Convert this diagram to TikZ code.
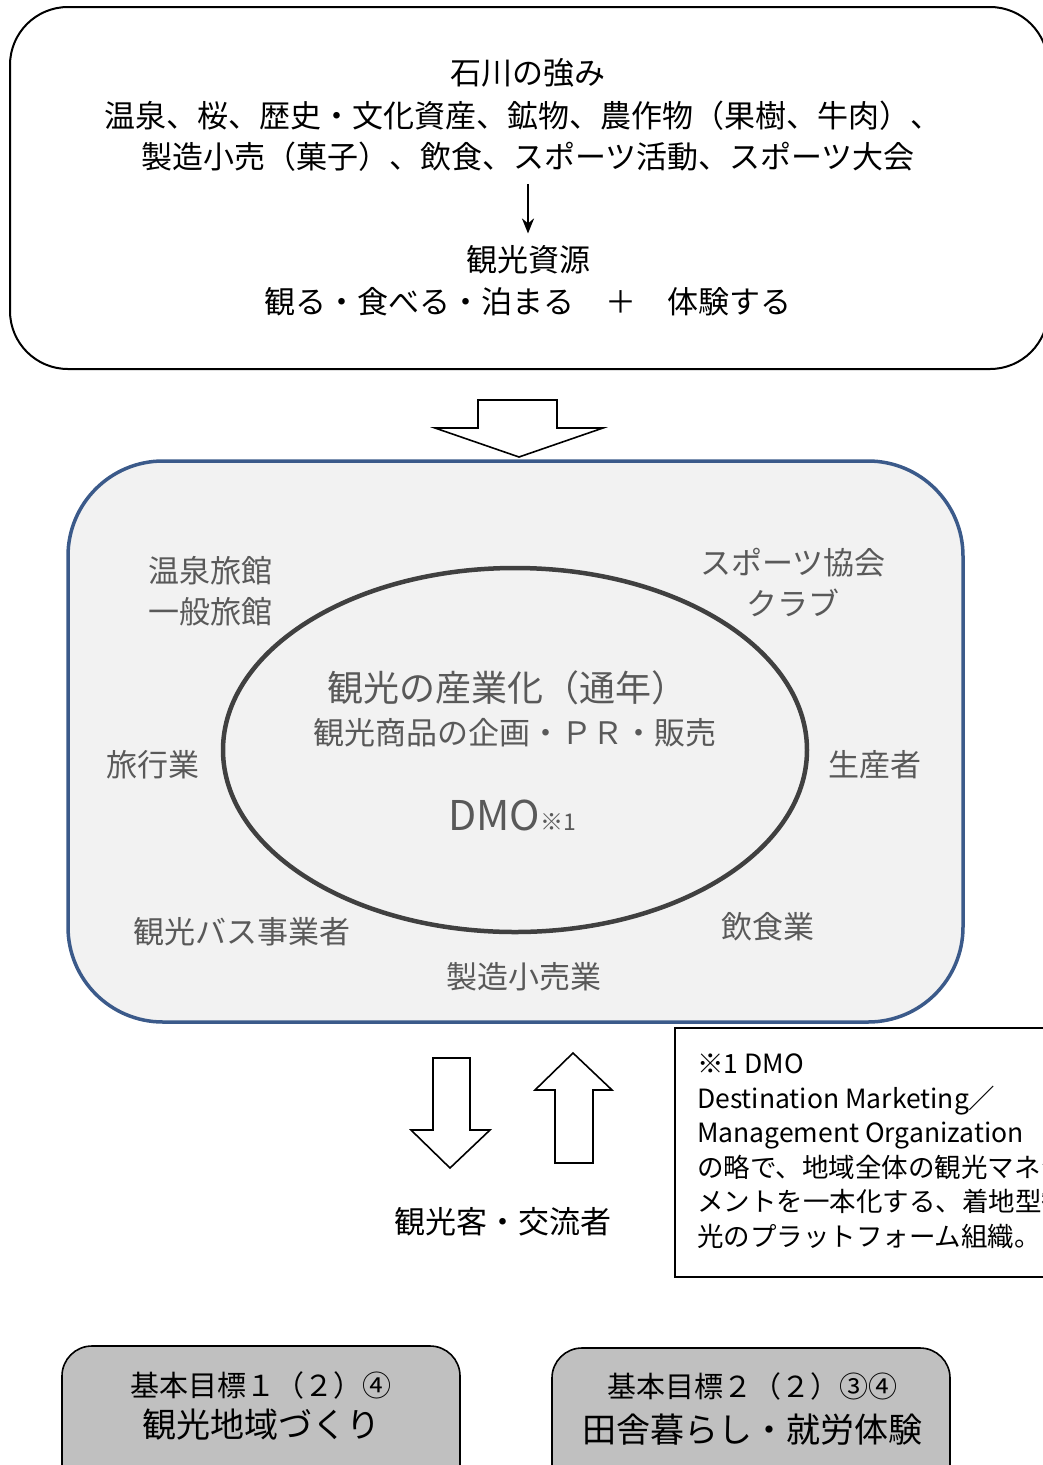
\documentclass[tikz,border=0pt]{standalone}
\usepackage{fontspec}
\setmainfont{Noto Sans CJK JP}
\usetikzlibrary{arrows.meta}

\definecolor{dmoblue}{HTML}{3B5A8A}
\definecolor{panelgray}{HTML}{F2F2F2}
\definecolor{textgray}{HTML}{595959}
\definecolor{ringgray}{HTML}{404040}
\definecolor{goalgray}{HTML}{C0C0C0}

\tikzset{
  jp/.style={font=\fontsize{31}{41}\selectfont, align=center, inner sep=0pt},
  member/.style={jp, text=textgray},
  hollow/.style={draw=black, line width=1.6pt, fill=white, line join=miter},
  goalbox/.style={draw=black, line width=1.6pt, fill=goalgray, rounded corners=30pt},
}

\begin{document}
\begin{tikzpicture}[x=1pt, y=-1pt]
  \useasboundingbox (0,0) rectangle (1043,1465);
  \clip (0,0) rectangle (1043,1465);

  % strengths and resources
  \draw[line width=2pt, rounded corners=58pt] (10,7) rectangle (1048,369);
  \node[jp] (title)  at (528,73)  {石川の強み};
  \node[jp] (items1) at (523,116) {温泉、桜、歴史・文化資産、鉱物、農作物（果樹、牛肉）、};
  \node[jp] (items2) at (528,157) {製造小売（菓子）、飲食、スポーツ活動、スポーツ大会};
  \node[jp] (res)    at (528,260) {観光資源};
  \node[jp] (acts)   at (528,302) {観る・食べる・泊まる　＋　体験する};
  \draw[line width=2.4pt, -{Stealth[length=15pt,width=12pt]},
        shorten <=12pt, shorten >=12pt] (items2) -- (res);

  % big arrow
  \draw[hollow] (478,400) -- (557,400) -- (557,428) -- (603,428) -- (519,457)
                -- (435,428) -- (478,428) -- cycle;

  % DMO panel
  \draw[draw=dmoblue, line width=3.5pt, fill=panelgray, rounded corners=95pt]
        (68,461) rectangle (963,1022);
  \draw[draw=ringgray, line width=4.5pt] (515,750) ellipse [x radius=292pt, y radius=182pt];

  \node[member] (onsen)  at (210,591) {温泉旅館\\一般旅館};
  \node[member] (sports) at (793,583) {スポーツ協会\\クラブ};
  \node[member] (travel) at (153,765) {旅行業};
  \node[member] (farm)   at (875,765) {生産者};
  \node[member] (bus)    at (242,932) {観光バス事業者};
  \node[member] (food)   at (768,927) {飲食業};
  \node[member] (maker)  at (524,977) {製造小売業};

  \node[member, font=\fontsize{36}{40}\selectfont] (ind)  at (507,688) {観光の産業化（通年）};
  \node[member] (plan) at (515,733) {観光商品の企画・ＰＲ・販売};
  \node[member, font=\fontsize{41}{44}\selectfont] (dmo)  at (512,815)
       {DMO{\fontsize{23}{23}\selectfont ※1}};

  % visitors
  \draw[hollow] (433,1058) -- (470,1058) -- (470,1130) -- (490,1130) -- (450,1168)
                -- (411,1130) -- (433,1130) -- cycle;
  \draw[hollow] (555,1163) -- (593,1163) -- (593,1090) -- (612,1090) -- (573,1053)
                -- (535,1090) -- (555,1090) -- cycle;
  \node[jp] (guest) at (503,1222) {観光客・交流者};

  % note
  \draw[line width=1.6pt] (675,1028) rectangle (1060,1277);
  \node[anchor=north west, align=left, inner sep=0pt,
        font=\fontsize{26.5}{34.5}\selectfont] (note) at (697,1054)
       {※1 DMO\\
        Destination Marketing／\\
        Management Organization\\
        の略で、地域全体の観光マネジ\\
        メントを一本化する、着地型観\\
        光のプラットフォーム組織。};

  % goals
  \draw[goalbox] (62,1346) rectangle (460,1500);
  \draw[goalbox] (552,1348) rectangle (950,1500);
  \node[jp, font=\fontsize{29}{35}\selectfont] (goal1) at (261,1385) {基本目標１（２）④};
  \node[jp, font=\fontsize{34}{40}\selectfont] (area)  at (261,1425) {観光地域づくり};
  \node[jp, font=\fontsize{29}{35}\selectfont] (goal2) at (752,1386) {基本目標２（２）③④};
  \node[jp, font=\fontsize{34}{40}\selectfont] (rural) at (752,1430) {田舎暮らし・就労体験};
\end{tikzpicture}
\end{document}
